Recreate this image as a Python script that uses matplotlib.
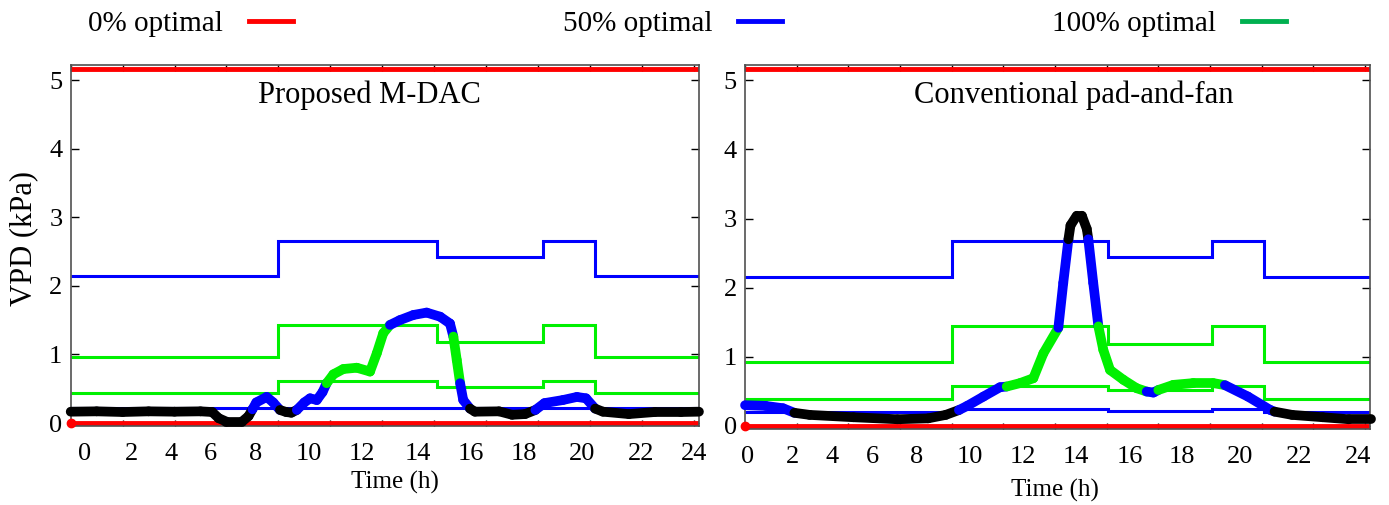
import numpy as np
import matplotlib
matplotlib.use("Agg")
import matplotlib.pyplot as plt
from matplotlib.collections import LineCollection
from matplotlib.lines import Line2D

plt.rcParams["font.family"] = ["Liberation Serif", "DejaVu Serif"]

# --------------------------------------------------
# DATA (time axis as drawn, VPD in kPa)
# --------------------------------------------------
hour_labels = ["0", "2", "4", "6", "8", "10", "12", "14", "16", "18", "20", "22", "24"]

# hour labels in the source figure are not evenly spaced
mdac_label_pos = [0.53, 2.34, 3.86, 5.40, 7.14, 9.18, 11.22, 13.38, 15.42, 17.46, 19.68, 21.99, 24.03]
fan_label_pos = [0.08, 1.82, 3.35, 4.92, 6.66, 8.71, 10.76, 12.81, 14.90, 16.92, 19.16, 21.44, 23.73]

red_limits = [0.0, 5.16]   # 0% optimal

# Proposed M-DAC: optimal band limits (step functions)
mdac_edges = [0.0, 8.0, 14.1, 18.2, 20.2, 24.2]
mdac_blue_hi = [2.14, 2.655, 2.42, 2.655, 2.14]
mdac_green_hi = [0.958, 1.424, 1.185, 1.424, 0.958]
mdac_green_lo = [0.433, 0.612, 0.52, 0.612, 0.433]
mdac_blue_lo = [0.22, 0.22, 0.22, 0.22, 0.22]

mdac_t = [0.0, 1.0, 2.0, 3.0, 4.0, 5.0, 5.45, 5.7, 6.0, 6.6, 6.85, 7.0, 7.15,
          7.55, 7.8, 8.06, 8.3, 8.5, 8.71, 9.0, 9.22, 9.48, 9.7, 9.86, 10.12,
          10.5, 11.02, 11.53, 11.79, 12.04, 12.3, 12.68, 13.2, 13.71, 14.23,
          14.61, 14.74, 14.87, 15.0, 15.12, 15.38, 15.57, 16.5, 17.0, 17.5,
          17.9, 18.25, 18.96, 19.5, 19.85, 20.2, 20.5, 21.5, 22.5, 23.5, 24.2]
mdac_vpd = [0.165, 0.17, 0.16, 0.17, 0.165, 0.17, 0.16, 0.07, 0.02, 0.02, 0.10,
            0.20, 0.30, 0.38, 0.30, 0.19, 0.16, 0.15, 0.19, 0.30, 0.36, 0.335,
            0.45, 0.58, 0.71, 0.787, 0.806, 0.75, 1.016, 1.31, 1.43, 1.50,
            1.575, 1.61, 1.55, 1.45, 1.26, 0.92, 0.58, 0.335, 0.21, 0.165,
            0.17, 0.12, 0.13, 0.19, 0.29, 0.335, 0.38, 0.36, 0.21, 0.165,
            0.13, 0.16, 0.16, 0.165]

# Conventional pad-and-fan
fan_edges = [0.0, 8.0, 14.05, 18.08, 20.1, 24.2]
fan_blue_hi = [2.155, 2.67, 2.45, 2.67, 2.155]
fan_green_hi = [0.932, 1.44, 1.19, 1.44, 0.932]
fan_green_lo = [0.387, 0.58, 0.52, 0.58, 0.387]
fan_blue_lo = [0.207, 0.246, 0.215, 0.246, 0.207]

fan_t = [0.0, 0.8, 1.47, 1.91, 2.5, 4.2, 5.9, 7.09, 7.77, 8.28, 8.6, 9.23,
         9.87, 10.13, 10.65, 11.16, 11.55, 12.13, 12.32, 12.52, 12.6, 12.84,
         13.04, 13.23, 13.29, 13.48, 13.68, 13.87, 14.13, 14.65, 15.16, 15.55,
         15.81, 16.0, 16.58, 17.36, 18.13, 18.58, 19.47, 20.33, 20.5, 21.18,
         22.37, 23.38, 24.24]
fan_vpd = [0.30, 0.29, 0.256, 0.19, 0.16, 0.126, 0.097, 0.11, 0.16, 0.23, 0.29,
           0.425, 0.56, 0.57, 0.62, 0.69, 1.05, 1.42, 2.07, 2.70, 2.90, 3.04,
           3.04, 2.85, 2.70, 2.07, 1.44, 1.10, 0.81, 0.667, 0.546, 0.497,
           0.483, 0.52, 0.594, 0.62, 0.62, 0.59, 0.425, 0.232, 0.207, 0.16,
           0.126, 0.097, 0.097]

RED = "#ff0000"
BLUE = "#0000ff"
GREEN = "#00f000"
LEGEND_GREEN = "#00b050"


def level_at(edges, levels, t):
    idx = np.searchsorted(edges, t, side="right") - 1
    idx = np.clip(idx, 0, len(levels) - 1)
    return np.asarray(levels)[idx]


def draw_panel(ax, t, vpd, edges, blo, glo, ghi, bhi, title, title_x, label_pos):
    # band limits
    for lv, col in [(bhi, BLUE), (ghi, GREEN), (glo, GREEN), (blo, BLUE)]:
        ax.stairs(lv, edges, baseline=None, color=col, lw=2.2, zorder=2)
    for r in red_limits:
        ax.axhline(r, color=RED, lw=3.5, zorder=2)
    ax.plot(0, red_limits[0], "o", color=RED, ms=6, clip_on=False, zorder=3)

    # measured VPD, coloured by the band it falls in
    t = np.asarray(t)
    vpd = np.asarray(vpd)
    pts = np.column_stack([t, vpd])
    segs = np.stack([pts[:-1], pts[1:]], axis=1)
    tm = (t[:-1] + t[1:]) / 2
    vm = (vpd[:-1] + vpd[1:]) / 2
    in_blue = (vm >= level_at(edges, blo, tm)) & (vm <= level_at(edges, bhi, tm))
    in_green = (vm >= level_at(edges, glo, tm)) & (vm <= level_at(edges, ghi, tm))
    cols = np.where(in_green, GREEN, np.where(in_blue, BLUE, "black"))
    lc = LineCollection(segs, colors=cols, linewidths=7, capstyle="round",
                        joinstyle="round", zorder=4, clip_on=False)
    ax.add_collection(lc)

    ax.set_xlim(0, 24.2)
    ax.set_ylim(-0.044, 5.22)
    ax.set_yticks(range(6))
    ax.set_xticks(np.arange(0, 25, 2))
    ax.set_xticklabels([])
    ax.set_xticks(label_pos, minor=True)
    ax.set_xticklabels(hour_labels, minor=True)
    ax.tick_params(axis="x", which="major", direction="in", length=4,
                   top=True, bottom=True, width=1)
    ax.tick_params(axis="x", which="minor", length=0, pad=12, labelsize=19)
    ax.tick_params(axis="y", direction="in", length=6, left=True, right=True,
                   width=1, labelsize=19, pad=6)
    for s in ax.spines.values():
        s.set_color("#505050")
        s.set_linewidth(1.2)
    ax.text(title_x, 0.917, title, transform=ax.transAxes, ha="center",
            va="center", fontsize=22)
    ax.set_xlabel("Time (h)", fontsize=18)


fig = plt.figure(figsize=(13.89, 5.05), dpi=100)
ax1 = fig.add_axes([0.0509, 0.1564, 0.4523, 0.7149])
ax2 = fig.add_axes([0.5364, 0.1505, 0.4500, 0.7208])

draw_panel(ax1, mdac_t, mdac_vpd, mdac_edges, mdac_blue_lo, mdac_green_lo,
           mdac_green_hi, mdac_blue_hi, "Proposed M-DAC", 0.475, mdac_label_pos)
draw_panel(ax2, fan_t, fan_vpd, fan_edges, fan_blue_lo, fan_green_lo,
           fan_green_hi, fan_blue_hi, "Conventional pad-and-fan", 0.526, fan_label_pos)

ax1.xaxis.set_label_coords(0.516, -0.125)
ax2.xaxis.set_label_coords(0.496, -0.137)
ax1.set_ylabel("VPD (kPa)", fontsize=22)
ax1.yaxis.set_label_coords(-0.052, 0.52)

handles = [Line2D([], [], color=RED, lw=3.5),
           Line2D([], [], color=BLUE, lw=3.5),
           Line2D([], [], color=LEGEND_GREEN, lw=3.5)]
fig.legend(handles, ["0% optimal", "50% optimal", "100% optimal"], ncol=3,
           loc="center left", bbox_to_anchor=(0.0634, 0.952), frameon=False,
           markerfirst=False, fontsize=21, handlelength=1.5, handletextpad=0.9,
           columnspacing=9.25, borderpad=0, borderaxespad=0)

fig.savefig("out.png", dpi=100)
